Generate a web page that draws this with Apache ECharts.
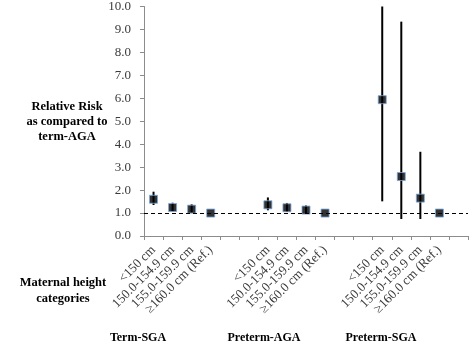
<!DOCTYPE html>
<html>
<head>
<meta charset="utf-8">
<script src="https://cdn.jsdelivr.net/npm/echarts@6/dist/echarts.min.js"></script>
<style>
html,body{margin:0;padding:0;background:#fff;}
#chart{width:472px;height:345px;}
</style>
</head>
<body>
<div id="chart"></div>
<script>
var heightCats = ['<150 cm', '150.0-154.9 cm', '155.0-159.9 cm', '\u2265160.0 cm (Ref.)'];
var groups = ['Term-SGA', 'Preterm-AGA', 'Preterm-SGA'];
var yTicks = [0, 1, 2, 3, 4, 5, 6, 7, 8, 9, 10];

var termSGA_rr = [1.60, 1.24, 1.17, 1.00];
var termSGA_lo = [1.35, 1.08, 1.03, 1.00];
var termSGA_hi = [1.93, 1.45, 1.38, 1.00];

var pretermAGA_rr = [1.36, 1.23, 1.13, 1.00];
var pretermAGA_lo = [1.12, 1.05, 1.00, 1.00];
var pretermAGA_hi = [1.68, 1.44, 1.33, 1.00];

var pretermSGA_rr = [5.94, 2.59, 1.65, 1.00];
var pretermSGA_lo = [1.51, 0.74, 0.74, 1.00];
var pretermSGA_hi = [10.0, 9.34, 3.67, 1.00];

var rrAll = [termSGA_rr, pretermAGA_rr, pretermSGA_rr];
var loAll = [termSGA_lo, pretermAGA_lo, pretermSGA_lo];
var hiAll = [termSGA_hi, pretermAGA_hi, pretermSGA_hi];

// Category axis: each group of 4 followed by empty slots
var categories = [];
var pointData = [];
var errData = [];
groups.forEach(function (g, gi) {
  heightCats.forEach(function (c, ci) {
    var idx = categories.length;
    categories.push(g + '|' + c);
    pointData.push([idx, rrAll[gi][ci]]);
    errData.push([idx, loAll[gi][ci], hiAll[gi][ci]]);
  });
  var spacers = gi < groups.length - 1 ? 2 : 1;
  for (var s = 0; s < spacers; s++) categories.push('gap' + gi + '_' + s + '|');
});

var serif = '"Liberation Serif","Times New Roman",Times,serif';
var chart = echarts.init(document.getElementById('chart'), null, {renderer: 'canvas'});
chart.setOption({
  animation: false,
  backgroundColor: '#fff',
  grid: {left: 144, right: 4, top: 6, bottom: 109, containLabel: false},
  xAxis: {
    type: 'category',
    data: categories,
    boundaryGap: true,
    axisLine: {lineStyle: {color: '#8c8c8c', width: 1}},
    axisTick: {show: true, interval: 0, length: 4, lineStyle: {color: '#8c8c8c'}},
    axisLabel: {
      interval: 0, rotate: 45, margin: 12,
      fontFamily: serif, fontSize: 13, color: '#3a3a3a',
      formatter: function (v) { return v.split('|')[1]; }
    },
    splitLine: {show: false}
  },
  yAxis: {
    type: 'value',
    min: yTicks[0], max: yTicks[yTicks.length - 1], interval: 1,
    axisLine: {show: true, lineStyle: {color: '#8c8c8c', width: 1}},
    axisTick: {show: true, length: 4, lineStyle: {color: '#8c8c8c'}},
    axisLabel: {
      fontFamily: serif, fontSize: 13, color: '#3a3a3a', margin: 13,
      formatter: function (v) { return v.toFixed(1); }
    },
    splitLine: {show: false}
  },
  series: [
    {
      type: 'custom',
      data: errData,
      encode: {x: 0, y: [1, 2]},
      z: 2,
      renderItem: function (params, api) {
        var x = api.value(0);
        var p1 = api.coord([x, api.value(1)]);
        var p2 = api.coord([x, api.value(2)]);
        return {
          type: 'line',
          shape: {x1: p1[0], y1: p1[1], x2: p2[0], y2: p2[1]},
          style: {stroke: '#000', lineWidth: 2}
        };
      }
    },
    {
      type: 'scatter',
      data: pointData,
      symbol: 'rect',
      symbolSize: 8,
      z: 3,
      itemStyle: {color: '#000', borderColor: '#7aa7dc', borderWidth: 1},
      markLine: {
        silent: true,
        symbol: ['none', 'none'],
        label: {show: false},
        lineStyle: {color: '#000', type: [4, 3], width: 1},
        data: [{yAxis: 1}]
      }
    }
  ],
  graphic: [
    {
      type: 'text', x: 67, y: 122,
      style: {
        text: 'Relative Risk\nas compared to\nterm-AGA',
        font: 'bold 12.5px ' + serif, fill: '#000',
        textAlign: 'center', textVerticalAlign: 'middle', lineHeight: 15
      }
    },
    {
      type: 'text', x: 63, y: 291,
      style: {
        text: 'Maternal height\ncategories',
        font: 'bold 12.5px ' + serif, fill: '#000',
        textAlign: 'center', textVerticalAlign: 'middle', lineHeight: 16
      }
    },
    {type: 'text', x: 138, y: 338, style: {text: groups[0], font: 'bold 12px ' + serif, fill: '#000', textAlign: 'center', textVerticalAlign: 'middle'}},
    {type: 'text', x: 264, y: 338, style: {text: groups[1], font: 'bold 12px ' + serif, fill: '#000', textAlign: 'center', textVerticalAlign: 'middle'}},
    {type: 'text', x: 381, y: 338, style: {text: groups[2], font: 'bold 12px ' + serif, fill: '#000', textAlign: 'center', textVerticalAlign: 'middle'}}
  ]
});
</script>
</body>
</html>
